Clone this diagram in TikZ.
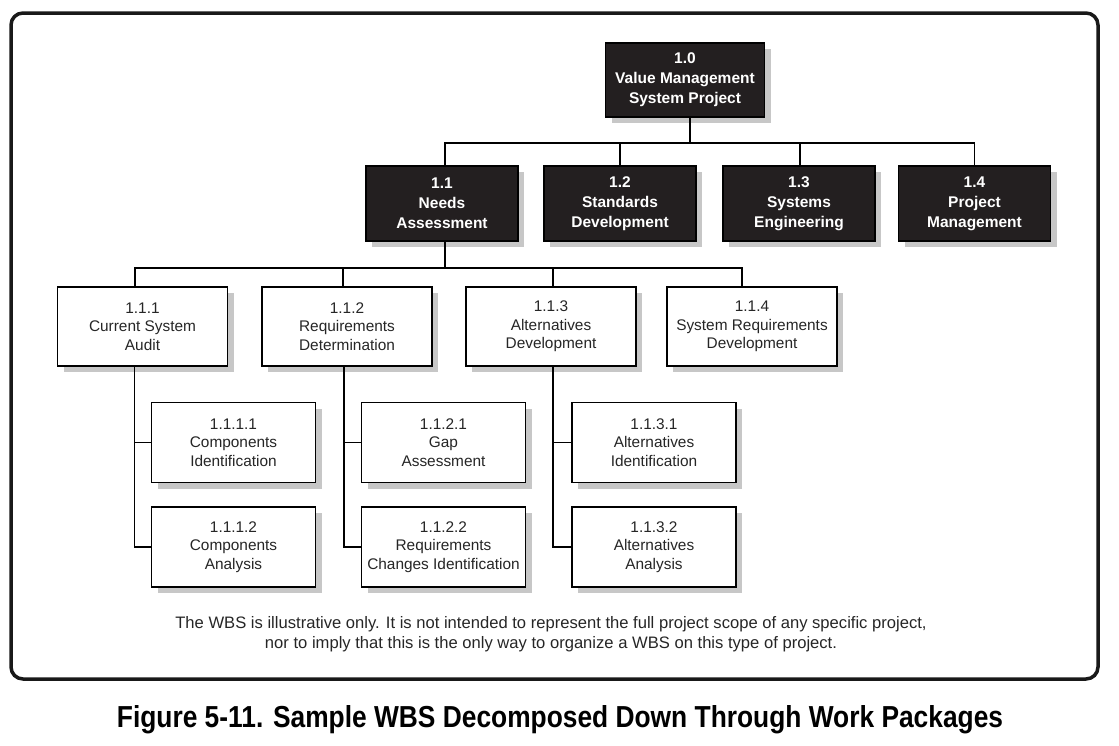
\documentclass[tikz,border=0pt]{standalone}
\usepackage{fontspec}
\setmainfont{Liberation Sans}
\usetikzlibrary{shadows}

\begin{document}
\begin{tikzpicture}[x=1pt,y=-1pt,
  wbs/.style={draw=black,line width=1.8pt,align=center,inner sep=0pt,
    drop shadow={shadow xshift=6pt,shadow yshift=-6pt,fill=black!22,opacity=1}},
  darkbox/.style={wbs,fill=wbs_dark,text=white,font=\bfseries\fontsize{15.5}{20}\selectfont,
    minimum width=152pt,minimum height=75pt},
  lightbox/.style={wbs,fill=white,text=black!85,font=\fontsize{15.4}{18.5}\selectfont,
    minimum width=170pt,minimum height=79pt},
  subbox/.style={lightbox,minimum width=164pt,minimum height=80pt},
  bus/.style={line width=1.8pt}]
% ------------------------------------------------ colors
\definecolor{wbs_dark}{RGB}{35,31,32}   %#231F20
\useasboundingbox (0,0) rectangle (1119,745);

% ------------------------------------------------ frame
\draw[line width=3.5pt,rounded corners=12pt,black!90] (11,13) rectangle (1098,679);

% ------------------------------------------------ level 1 and 2
\node[darkbox,minimum width=159pt,minimum height=74pt] (p10) at (685,80)
  {1.0\\Value Management\\System Project};
\node[darkbox] (p11) at (442,203.5) {1.1\\Needs\\Assessment};
\node[darkbox] (p12) at (620,203.5) {1.2\\Standards\\Development};
\node[darkbox] (p13) at (799,203.5) {1.3\\Systems\\Engineering};
\node[darkbox] (p14) at (974.5,203.5) {1.4\\Project\\Management};

% ------------------------------------------------ level 3
\node[lightbox] (p111) at (142.5,326.5) {1.1.1\\Current System\\Audit};
\node[lightbox] (p112) at (347,326.5) {1.1.2\\Requirements\\Determination};
\node[lightbox] (p113) at (551,326.5) {1.1.3\\Alternatives\\Development};
\node[lightbox] (p114) at (752,326.5) {1.1.4\\System Requirements\\Development};

% ------------------------------------------------ work packages
\node[subbox] (p1111) at (233.5,442.5) {1.1.1.1\\Components\\Identification};
\node[subbox] (p1112) at (233.5,547) {1.1.1.2\\Components\\Analysis};
\node[subbox] (p1121) at (443.5,442.5) {1.1.2.1\\Gap\\Assessment};
\node[subbox] (p1122) at (443.5,547) {1.1.2.2\\Requirements\\Changes Identification};
\node[subbox] (p1131) at (654,442.5) {1.1.3.1\\Alternatives\\Identification};
\node[subbox] (p1132) at (654,547) {1.1.3.2\\Alternatives\\Analysis};

% ------------------------------------------------ connectors
\foreach \c/\dx in {11/3,12/0,13/1,14/0}
  \draw[bus] ([xshift=5pt]p10.south) -- ++(0,25) -| ([xshift=\dx pt]p\c.north);
\foreach \c/\dx in {111/-7.5,112/-4,113/2,114/-10}
  \draw[bus] ([xshift=3pt]p11.south) -- ++(0,26) -| ([xshift=\dx pt]p\c.north);
\foreach \c/\dx in {111/-8,112/-3,113/2} {
  \draw[bus] ([xshift=\dx pt]p\c.south) |- (p\c1.west);
  \draw[bus] ([xshift=\dx pt]p\c.south) |- (p\c2.west);
}

% ------------------------------------------------ notes
\node[align=center,text=black!85,font=\fontsize{16.6}{20}\selectfont] (note) at (551,634)
  {The WBS is illustrative only. It is not intended to represent the full project scope of any specific project,\\
   nor to imply that this is the only way to organize a WBS on this type of project.};
\node[inner sep=0pt] (title) at (560,720)
  {\resizebox{886pt}{22pt}{\bfseries Figure 5-11. Sample WBS Decomposed Down Through Work Packages}};
\end{tikzpicture}
\end{document}
